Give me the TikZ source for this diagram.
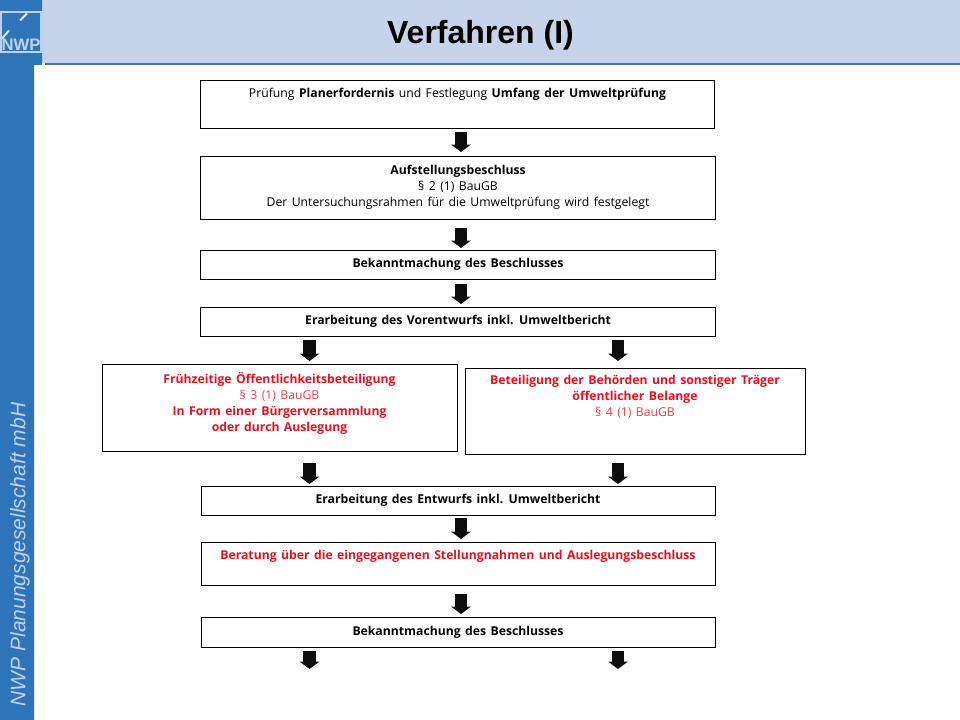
\documentclass[tikz,border=0pt]{standalone}
\usepackage{fontspec}
\usepackage{xcolor}
\usetikzlibrary{arrows.meta, positioning}
\setmainfont[WordSpace=1.4]{Open Sans}
\newfontfamily\headfont{Liberation Sans}
\definecolor{corBlau}{RGB}{46,116,184}
\definecolor{corKopf}{RGB}{199,211,234}
\definecolor{corLinie}{RGB}{70,116,168}
\definecolor{corLogo}{RGB}{190,210,238}
\definecolor{corRot}{RGB}{226,18,30}
\definecolor{corRotHell}{RGB}{228,70,80}
\begin{document}
\begin{tikzpicture}[x=0.75pt, y=-0.75pt,
      stepbox/.style={rectangle, draw=black, line width=0.65pt, outer sep=0pt, inner sep=0pt,
        minimum width=386pt, align=center, font=\fontsize{9.15}{12}\selectfont},
      redbox/.style={stepbox, text=corRot},
      arrow/.style={-{Triangle[length=5.5pt, width=14.5pt]}, line width=9.5pt, draw=black!95,
        shorten >=3pt, shorten <=3pt}]
    % kopf und seitenleiste
    \useasboundingbox (0,0) rectangle (960,720);
    \fill[corKopf] (42,0) rectangle (960,63);
    \fill[corLinie] (45,63) rectangle (960,65.5);
    \fill[corBlau] (0,0) rectangle (42,65) (0,65) rectangle (34,720);
    % logo
    \fill[corLogo] (0,11) rectangle (44,53);
    \fill[corBlau] (2,13) rectangle (40,51);
    \draw[corLogo!40!white, line width=1.4pt] (20,20.5) -- (27,13.5) (2,38.5) -- (9,30.5);
    \node[font=\headfont\bfseries\fontsize{12.5}{13}\selectfont, text=corLogo, inner sep=0pt] (logo) at (21,45) {NWP};
    \node[font=\headfont\bfseries\fontsize{24}{28}\selectfont, inner sep=0pt] (titel) at (480.5,35.5) {Verfahren (I)};
    \node[font=\headfont\itshape\fontsize{15.75}{17}\selectfont, text=corLogo, rotate=90, inner sep=0pt] (firma) at (20,554.5) {NWP Planungsgesellschaft mbH};
    % ablauf
    \node[stepbox, minimum height=36pt] (pruefung) at (457.5,104) {Prüfung \textbf{Planerfordernis} und Festlegung \textbf{Umfang der Umweltprüfung}\\[4.5pt]~};
    \node[stepbox, minimum height=47.25pt, below=21pt of pruefung, xshift=0.4pt] (aufstellung) {\textbf{Aufstellungsbeschluss}\\§ 2 (1) BauGB\\Der Untersuchungsrahmen für die Umweltprüfung wird festgelegt};
    \node[stepbox, minimum height=21.75pt, below=23.25pt of aufstellung] (bekannt) {\textbf{Bekanntmachung des Beschlusses}};
    \node[stepbox, minimum height=21.75pt, below=21pt of bekannt] (vorentwurf) {\textbf{Erarbeitung des Vorentwurfs inkl. Umweltbericht}};
    \node[redbox, minimum width=266.25pt, minimum height=65.25pt] (fruehzeitig) at (279.5,407.5) {\textbf{Frühzeitige Öffentlichkeitsbeteiligung}\\{\color{corRotHell}§ 3 (1) BauGB}\\\textbf{In Form einer Bürgerversammlung}\\\textbf{oder durch Auslegung}\\[-3pt]~};
    \node[redbox, minimum width=255pt, minimum height=64.5pt] (behoerden) at (635,411) {\textbf{Beteiligung der Behörden und sonstiger Träger}\\\textbf{öffentlicher Belange}\\{\color{corRotHell}§ 4 (1) BauGB}\\[10.5pt]~};
    \node[stepbox, minimum width=385.5pt, minimum height=21.75pt] (entwurf) at (458,500.5) {\textbf{Erarbeitung des Entwurfs inkl. Umweltbericht}};
    \node[redbox, minimum width=385.5pt, minimum height=32.25pt, below=20.25pt of entwurf] (beratung) {\textbf{Beratung über die eingegangenen Stellungnahmen und Auslegungsbeschluss}\\[0.75pt]~};
    \node[stepbox, minimum width=385.5pt, minimum height=22.5pt, below=24pt of beratung] (bekanntb) {\textbf{Bekanntmachung des Beschlusses}};
    % pfeile
    \coordinate (mx) at (461,0); \coordinate (lx) at (309.5,0); \coordinate (rx) at (618,0);
    \coordinate (endeL) at (309.5,672); \coordinate (endeR) at (618,672);
    \draw[arrow] (mx |- pruefung.south)--(mx |- aufstellung.north);
    \draw[arrow, shorten <=6.75pt, shorten >=1.5pt] (mx |- aufstellung.south)--(mx |- bekannt.north);
    \draw[arrow, shorten <=3.75pt, shorten >=2.25pt] (mx |- bekannt.south)--(mx |- vorentwurf.north);
    \draw[arrow, shorten >=2.25pt] (lx |- vorentwurf.south)--(lx |- fruehzeitig.north);
    \draw[arrow, shorten >=5.25pt] (rx |- vorentwurf.south)--(rx |- behoerden.north);
    \draw[arrow, shorten <=9pt, shorten >=1.5pt] (lx |- fruehzeitig.south)--(lx |- entwurf.north);
    \draw[arrow, shorten <=6.75pt, shorten >=1.5pt] (rx |- behoerden.south)--(rx |- entwurf.north);
    \draw[arrow, shorten <=2.25pt, shorten >=2.25pt] (mx |- entwurf.south)--(mx |- beratung.north);
    \draw[arrow, shorten <=6.75pt, shorten >=2.25pt] (mx |- beratung.south)--(mx |- bekanntb.north);
    \draw[arrow, shorten >=2.25pt] (lx |- bekanntb.south)--(endeL);
    \draw[arrow, shorten >=2.25pt] (rx |- bekanntb.south)--(endeR);
  \end{tikzpicture}
\end{document}
